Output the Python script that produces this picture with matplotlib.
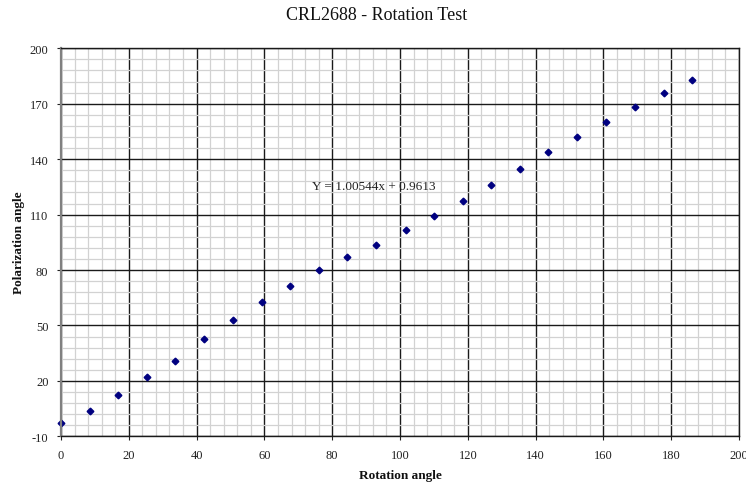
import matplotlib
matplotlib.use("Agg")
import matplotlib.pyplot as plt
from matplotlib.ticker import MultipleLocator

# data
rotation = [0, 8.5, 16.8, 25.4, 33.7, 42.3, 50.6, 59.2, 67.6, 76.1, 84.5, 93.0,
            101.7, 110.0, 118.6, 126.8, 135.4, 143.7, 152.3, 160.7, 169.2, 177.8, 186.1]
polarization = [-3.0, 3.9, 12.4, 21.9, 30.9, 42.8, 52.9, 62.7, 71.5, 79.8, 87.2, 93.7,
                101.7, 109.4, 117.2, 126.2, 134.7, 143.7, 152.0, 160.3, 168.2, 175.6, 183.0]
fit_label = "Y = 1.00544x + 0.9613"

plt.rcParams['font.family'] = ['Liberation Serif', 'DejaVu Serif']
plt.rcParams['axes.unicode_minus'] = False

fig = plt.figure(figsize=(7.46, 4.89), dpi=100)
ax = fig.add_axes([61/746, 1 - 437.3/489, 678/746, 388/489])

ax.set_xlim(0, 200)
ax.set_ylim(-10, 200)
ax.xaxis.set_major_locator(MultipleLocator(20))
ax.xaxis.set_minor_locator(MultipleLocator(4))
ax.yaxis.set_major_locator(MultipleLocator(30, offset=20))
ax.yaxis.set_minor_locator(MultipleLocator(6, offset=2))

ax.grid(which='minor', color='#d2d2d2', linewidth=0.9)
ax.grid(which='major', color='#1a1a1a', linewidth=1.0)
ax.set_axisbelow(True)

for s in ax.spines.values():
    s.set_color('#1a1a1a')
    s.set_linewidth(1.0)
ax.spines['left'].set_color('#808080')
ax.spines['left'].set_linewidth(1.6)

ax.tick_params(which='major', direction='out', length=3, width=0.8, labelsize=9,
               colors='#222222', pad=6)
ax.tick_params(which='minor', length=0)

ax.plot(rotation, polarization, linestyle='none', marker='D', markersize=3.4,
        color='#000080', clip_on=False)

ax.text(74, 125.5, fit_label, fontsize=9.5, va='center', ha='left', color='#222222')

fig.text(377/746, 1 - 15/489, "CRL2688 - Rotation Test", ha='center', va='center',
         fontsize=13, color='#111111')
fig.text(400/746, 1 - 476/489, "Rotation angle", ha='center', va='center',
         fontsize=9.5, fontweight='bold', color='#111111')
fig.text(19/746, 1 - 243/489, "Polarization angle", ha='center', va='center',
         fontsize=9.5, fontweight='bold', rotation=90, color='#111111')

fig.savefig("out.png", dpi=100)
